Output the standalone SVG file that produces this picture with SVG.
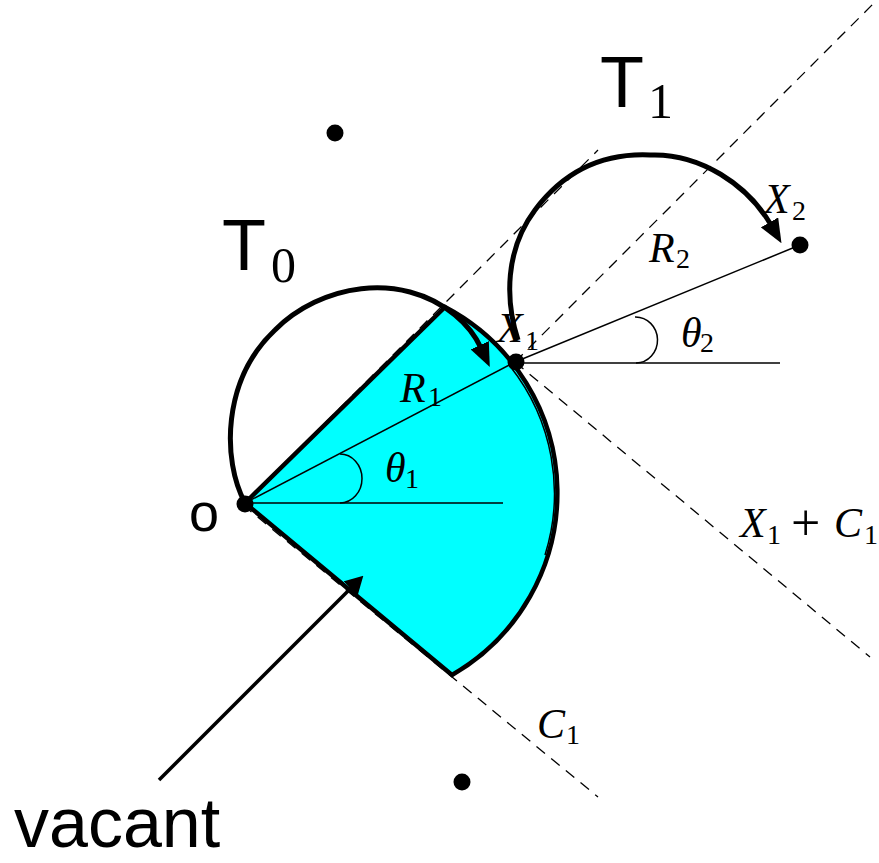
<svg xmlns="http://www.w3.org/2000/svg" width="879" height="863" viewBox="0 0 879 863">
<style>
.dash{fill:none;stroke:#000;stroke-width:1.3;stroke-dasharray:11 8}
.thin{fill:none;stroke:#000;stroke-width:1.5}
.thick{fill:none;stroke:#000;stroke-width:5;stroke-linecap:butt}
.dot{fill:#000}
.m{font-family:'Liberation Serif','DejaVu Serif',serif;font-style:italic;font-size:42px}
.s{font-family:'Liberation Serif','DejaVu Serif',serif;font-style:normal;font-size:28px}
.p{font-family:'Liberation Serif','DejaVu Serif',serif;font-style:normal;font-size:52px}
.sans{font-family:'Liberation Sans',Arial,sans-serif}
.big{font-family:'Liberation Serif','DejaVu Serif',serif;font-size:50px}
</style>
<defs>
<marker id="head" viewBox="0 0 24 20" refX="3" refY="10" markerWidth="24" markerHeight="20" markerUnits="userSpaceOnUse" orient="auto"><path d="M0,0 L24,10 L0,20 Z" fill="#000"/></marker>
<marker id="headS" viewBox="0 0 18 20" refX="2" refY="10" markerWidth="18" markerHeight="20" markerUnits="userSpaceOnUse" orient="auto"><path d="M0,0 L18,10 L0,20 Z" fill="#000"/></marker>
</defs>
<g id="sector">
<path d="M245,503 L445,307 A210,210 0 0 1 452,675 Z" fill="#00ffff" stroke="#000" stroke-width="4.5" stroke-linejoin="miter"/>
<path d="M510.5,366.7 A205,205 0 0 1 545,555" class="thin" stroke-width="1.2"/>
</g>
<g id="connectors">
<line class="dash" x1="245" y1="503" x2="598" y2="150"/>
<line class="dash" x1="243" y1="505" x2="598" y2="797"/>
<line class="dash" x1="515" y1="362" x2="877" y2="0"/>
<line class="dash" x1="515" y1="362" x2="870" y2="657"/>
<line class="thin" x1="245" y1="503" x2="503" y2="503"/>
<line class="thin" x1="245" y1="503" x2="515" y2="362"/>
<path class="thin" d="M340,454 A22,24.5 0 0 1 340,503"/>
<line class="thin" x1="515" y1="363" x2="780" y2="363"/>
<line class="thin" x1="515" y1="362" x2="800" y2="245"/>
<path class="thin" d="M635,317 A22,23 0 0 1 636,363"/>
<path id="T0-arrow" class="thick" d="M245,503 C222,460 222,380 275,330 C320,285 400,270 455,315 C466,324 475,335 481,348" marker-end="url(#head)"/>
<path id="T1-arrow" class="thick" d="M518,340 C505,300 505,250 535,210 C565,170 605,153 650,155 C700,153 748,185 771,225" marker-end="url(#head)"/>
<line id="vacant-arrow" x1="159" y1="780" x2="352" y2="587" stroke="#000" stroke-width="3.5" marker-end="url(#headS)"/>
</g>
<g id="node-O">
<circle class="dot" cx="245" cy="504" r="8.5"/>
<text class="sans" x="189" y="531" font-size="54">o</text>
</g>
<g id="node-X1">
<circle class="dot" cx="516" cy="362" r="8.5"/>
<text><tspan class="m" x="497" y="342">X</tspan><tspan class="s" x="525" y="350">1</tspan></text>
</g>
<g id="node-X2">
<circle class="dot" cx="800" cy="245" r="8.5"/>
<text><tspan class="m" x="764" y="213">X</tspan><tspan class="s" x="792" y="220">2</tspan></text>
</g>
<g id="dot-top"><circle class="dot" cx="335" cy="133" r="8.5"/></g>
<g id="dot-bottom"><circle class="dot" cx="462" cy="782" r="8.5"/></g>
<g id="labels">
<text><tspan class="sans" x="222" y="270" font-size="72">T</tspan><tspan class="big" x="271" y="282">0</tspan></text>
<text><tspan class="sans" x="600" y="107" font-size="72">T</tspan><tspan class="big" x="648" y="118">1</tspan></text>
<text><tspan class="m" x="400" y="402">R</tspan><tspan class="s" x="428" y="406">1</tspan></text>
<text><tspan class="m" x="385" y="482">θ</tspan><tspan class="s" x="405" y="488">1</tspan></text>
<text><tspan class="m" x="649" y="262">R</tspan><tspan class="s" x="676" y="268">2</tspan></text>
<text><tspan class="m" x="681" y="347">θ</tspan><tspan class="s" x="700" y="352">2</tspan></text>
<text><tspan class="m" x="537" y="738">C</tspan><tspan class="s" x="566" y="744">1</tspan></text>
<text><tspan class="m" x="740" y="537">X</tspan><tspan class="s" x="767" y="544">1</tspan><tspan class="p" x="791" y="540">+</tspan><tspan class="m" x="834" y="537">C</tspan><tspan class="s" x="864" y="544">1</tspan></text>
<text class="sans" x="14" y="847" font-size="70">vacant</text>
</g>
</svg>
